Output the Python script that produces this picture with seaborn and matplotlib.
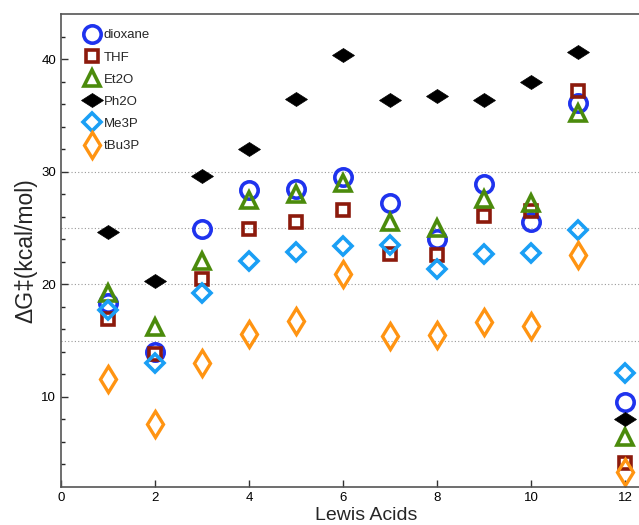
import numpy as np
import pandas as pd
import matplotlib
matplotlib.use("Agg")
import matplotlib.pyplot as plt
from matplotlib.markers import MarkerStyle
from matplotlib.transforms import Affine2D
import seaborn as sns

# ---- data ----
lewis_acids = [1, 2, 3, 4, 5, 6, 7, 8, 9, 10, 11, 12]
dioxane = [18.3, 14.0, 24.9, 28.35, 28.5, 29.55, 27.2, 24.0, 28.9, 25.5, 36.1, 9.55]
thf     = [16.9, 13.8, 20.5, 24.95, 25.5, 26.6, 22.7, 22.6, 26.1, 26.5, 37.2, 4.1]
et2o    = [19.25, 16.2, 22.1, 27.5, 28.0, 29.0, 25.5, 25.0, 27.6, 27.25, 35.2, 6.45]
ph2o    = [24.6, 20.3, 29.6, 32.0, 36.45, 40.4, 36.4, 36.7, 36.4, 37.95, 40.6, 8.0]
me3p    = [17.7, 13.0, 19.2, 22.1, 22.9, 23.4, 23.5, 21.4, 22.7, 22.75, 24.8, 12.1]
tbu3p   = [11.6, 7.6, 13.0, 15.6, 16.75, 20.95, 15.4, 15.5, 16.65, 16.3, 22.6, 3.3]

series_names = ["dioxane", "THF", "Et2O", "Ph2O", "Me3P", "tBu3P"]
series_vals = [dioxane, thf, et2o, ph2o, me3p, tbu3p]
grid_levels = [15, 20, 25, 30]

df = pd.DataFrame({"acid": lewis_acids})
for name, vals in zip(series_names, series_vals):
    df[name] = vals

# ---- styles ----
flat_diamond = MarkerStyle("d", transform=Affine2D().rotate_deg(90))
styles = {
    "dioxane": dict(marker="o", color="#1f33ee", ms=12.5, mew=2.6, mfc="none"),
    "THF":     dict(marker="s", color="#8c1a0c", ms=8.5, mew=2.6, mfc="none"),
    "Et2O":    dict(marker="^", color="#4b8b0c", ms=11, mew=2.6, mfc="none"),
    "Ph2O":    dict(marker=flat_diamond, color="black", ms=11.5, mew=0.5, mfc="black"),
    "Me3P":    dict(marker="D", color="#1a9ff5", ms=9, mew=2.6, mfc="none"),
    "tBu3P":   dict(marker="d", color="#ff9412", ms=13.5, mew=2.4, mfc="none"),
}

sns.set_style("ticks")
plt.rcParams["font.family"] = ["Liberation Sans", "DejaVu Sans"]

fig = plt.figure(figsize=(6.39, 5.25), dpi=100)
ax = fig.add_axes([61 / 639, 1 - 487 / 525, 611 / 639, 473 / 525])

for y in grid_levels:
    ax.axhline(y, color="#999999", lw=0.8, ls=(0, (1, 2)), zorder=0)

for name in series_names:
    st = styles[name]
    sns.lineplot(data=df, x="acid", y=name, ax=ax, sort=False, errorbar=None,
                 linestyle="none", marker=st["marker"], color=st["color"],
                 markersize=st["ms"], markeredgewidth=st["mew"],
                 markeredgecolor=st["color"], markerfacecolor=st["mfc"],
                 label=name)

ax.set_xlim(0, 13)
ax.set_ylim(2, 44)
ax.set_xticks(np.arange(0, 13, 2))
ax.set_yticks([10, 20, 30, 40])
ax.set_yticks(np.arange(4, 44, 2), minor=True)
ax.tick_params(direction="in", labelsize=9.5, length=5, width=1, colors="#333333",
               labelcolor="black")
ax.tick_params(axis="y", which="minor", direction="in", length=3, width=1)
for sp in ax.spines.values():
    sp.set_color("#555555")
    sp.set_linewidth(1.2)

ax.set_xlabel("Lewis Acids", fontsize=14, labelpad=2)
ax.set_ylabel("ΔG‡(kcal/mol)", fontsize=16.5, labelpad=3)

leg = ax.legend(loc="upper left", bbox_to_anchor=(11 / 611, 1 - 6 / 473),
                frameon=False, fontsize=9.5,
                handletextpad=0.1, labelspacing=0.75, borderaxespad=0.3,
                handlelength=1.6)

fig.savefig("out.png", dpi=100)
